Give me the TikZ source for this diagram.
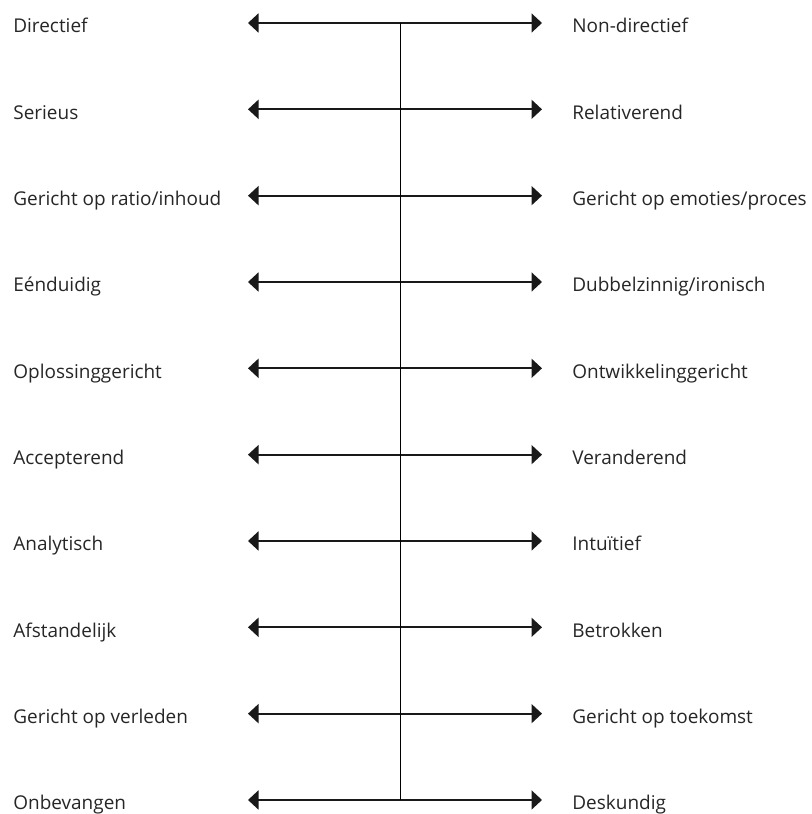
\documentclass[tikz,border=0pt]{standalone}
\usepackage{fontspec}
\setmainfont{Open Sans}
\usetikzlibrary{arrows.meta}

\begin{document}
\begin{tikzpicture}[x=0.02cm,y=-0.02cm,
	pole/.style={anchor=base west,inner sep=0pt,text=black!85,font=\fontsize{10.8}{12}\selectfont},
	axis/.style={{Triangle[length=0.21cm,width=0.38cm]}-{Triangle[length=0.21cm,width=0.38cm]},line width=1.1pt,black!90}]
	\useasboundingbox (0,0) rectangle (811,814);
	\foreach \l/\r [count=\i from 0] in {Directief/Non-directief,Serieus/Relativerend,{Gericht op ratio/inhoud}/{Gericht op emoties/proces},Eénduidig/{Dubbelzinnig/ironisch},Oplossinggericht/Ontwikkelinggericht,Accepterend/Veranderend,Analytisch/Intuïtief,Afstandelijk/Betrokken,Gericht op verleden/Gericht op toekomst,Onbevangen/Deskundig}{
		\pgfmathsetmacro{\y}{23+86.33*\i}
		\node[pole] (L\i) at (13,\y+10) {\l};
		\node[pole] (R\i) at (572,\y+10) {\r};
		\coordinate (a\i) at (248,\y);
		\coordinate (b\i) at (542,\y);
		\draw[axis] (a\i) -- (b\i);
	}
	\coordinate (top) at (400,23);
	\coordinate (bot) at (400,800);
	\draw[line width=0.5pt] (top) -- (bot);
\end{tikzpicture}
\end{document}
